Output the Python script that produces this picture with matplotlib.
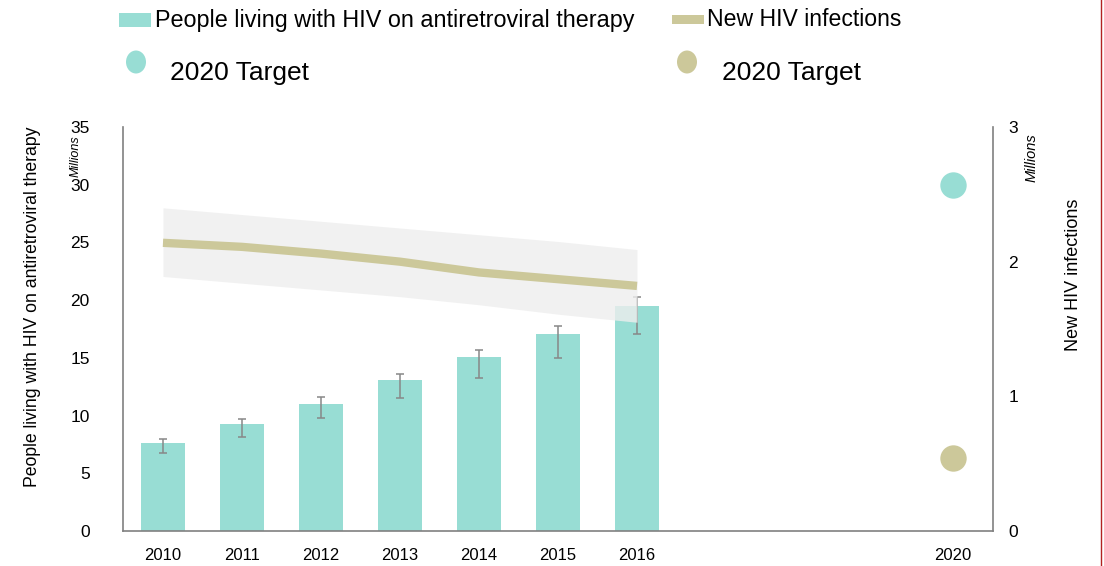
import matplotlib
matplotlib.use("Agg")
import matplotlib.pyplot as plt
from matplotlib.patches import Rectangle, Ellipse
from matplotlib.lines import Line2D

plt.rcParams['font.family'] = ['Liberation Sans', 'DejaVu Sans']

# ---- data (millions) ----
years = [2010, 2011, 2012, 2013, 2014, 2015, 2016]
art_values = [7.62, 9.27, 11.03, 13.08, 15.10, 17.07, 19.47]
art_low = [6.73, 8.15, 9.76, 11.50, 13.28, 14.99, 17.10]
art_high = [8.00, 9.73, 11.58, 13.60, 15.68, 17.79, 20.30]
new_inf = [2.14, 2.11, 2.06, 2.00, 1.92, 1.87, 1.82]
new_inf_low = [1.89, 1.84, 1.79, 1.74, 1.68, 1.61, 1.55]
new_inf_high = [2.40, 2.35, 2.30, 2.25, 2.20, 2.15, 2.09]
target_year = 2020
art_target = 30.0
inf_target = 0.54
xtick_years = years + [target_year]
left_ticks = [0, 5, 10, 15, 20, 25, 30, 35]
right_ticks = [0, 1, 2, 3]

W, H = 1104, 566
fig = plt.figure(figsize=(W / 100, H / 100), dpi=100)

def fx(px):
    return px / W

def fy(py):
    return 1 - py / H

ax = fig.add_axes([fx(123), fy(531), (993 - 123) / W, (531 - 127) / H])
ax2 = ax.twinx()

TEAL = '#98ddd4'
TAN = '#ccc89a'
GRAY = '#888888'

yerr = [[v - l for v, l in zip(art_values, art_low)],
        [h - v for v, h in zip(art_values, art_high)]]
ax.bar(years, art_values, width=0.565, color=TEAL, zorder=2)
ax.errorbar(years, art_values, yerr=yerr, fmt='none', ecolor=GRAY,
            elinewidth=1.1, capsize=3, capthick=1.1, zorder=3)
ax.plot([target_year], [art_target], 'o', color=TEAL, markersize=19,
        markeredgewidth=0, zorder=4, clip_on=False)

ax2.fill_between(years, new_inf_low, new_inf_high, color='#eeeeee', alpha=0.8,
                 linewidth=0, zorder=1)
ax2.plot(years, new_inf, color=TAN, linewidth=6, solid_capstyle='butt', zorder=2)
ax2.plot([target_year], [inf_target], 'o', color=TAN, markersize=19,
         markeredgewidth=0, zorder=4, clip_on=False)

ax.set_xlim(2009.494, 2020.506)
ax.set_ylim(0, 35)
ax2.set_ylim(0, 3)
ax.set_xticks(xtick_years)
ax.set_xticklabels([str(y) for y in xtick_years])
ax.set_yticks(left_ticks)
ax2.set_yticks(right_ticks)

for a in (ax, ax2):
    a.spines['top'].set_visible(False)
    for s in ('left', 'right', 'bottom'):
        a.spines[s].set_color('#808080')
        a.spines[s].set_linewidth(1.2)
ax2.spines['left'].set_visible(False)
ax2.spines['bottom'].set_visible(False)
ax.spines['right'].set_visible(False)

ax.tick_params(axis='x', length=0, pad=12, labelsize=12, labelcolor='#000000')
ax.tick_params(axis='y', length=0, pad=24, labelsize=12.5, labelcolor='#000000')
ax2.tick_params(axis='y', length=0, pad=11, labelsize=12.5, labelcolor='#000000')

# axis titles
fig.text(fx(33), fy(307), 'People living with HIV on antiretroviral therapy',
         rotation=90, ha='center', va='center', fontsize=12.7, color='#000000')
fig.text(fx(1073), fy(275), 'New HIV infections', rotation=90,
         ha='center', va='center', fontsize=13, color='#000000')
fig.text(fx(76), fy(156), 'Millions', rotation=90, ha='center', va='center',
         fontsize=9, style='italic', color='#000000')
fig.text(fx(1032), fy(158), 'Millions', rotation=90, ha='center', va='center',
         fontsize=10.5, style='italic', color='#000000')

# custom legend
fig.add_artist(Rectangle((fx(119), fy(27)), 32 / W, 14 / H, color=TEAL,
                         transform=fig.transFigure, linewidth=0))
fig.text(fx(155), fy(20), 'People living with HIV on antiretroviral therapy',
         ha='left', va='center', fontsize=16.8, color='#000000')
fig.add_artist(Rectangle((fx(672), fy(24)), 32 / W, 9 / H, color=TAN,
                         transform=fig.transFigure, linewidth=0))
fig.text(fx(707), fy(20), 'New HIV infections', ha='left', va='center',
         fontsize=16.6, color='#000000')

fig.add_artist(Ellipse((fx(136), fy(62)), 20 / W, 23 / H, color=TEAL,
                       transform=fig.transFigure, linewidth=0))
fig.text(fx(170), fy(73), '2020 Target', ha='left', va='center',
         fontsize=19, color='#000000')
fig.add_artist(Ellipse((fx(687), fy(62)), 20 / W, 23 / H, color=TAN,
                       transform=fig.transFigure, linewidth=0))
fig.text(fx(722), fy(73), '2020 Target', ha='left', va='center',
         fontsize=19, color='#000000')

# thin red border line at right edge
fig.add_artist(Line2D([fx(1101), fx(1101)], [0, 1], color='#b22222',
                      linewidth=1, transform=fig.transFigure))

fig.savefig('out.png', dpi=100)
